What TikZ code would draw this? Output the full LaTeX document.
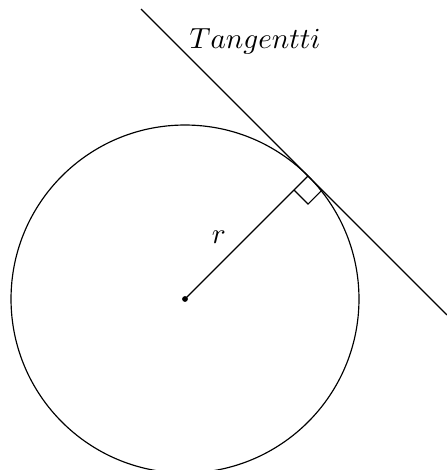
\documentclass[tikz,border=0pt]{standalone}
\usepackage{amsmath}
\usepackage{amssymb}
\usepackage{tikz}

\begin{document}
\begin{tikzpicture}
      \useasboundingbox (-2.233,-2.064) rectangle (3.162,3.609);
      \coordinate (O) at (0,0);
      \coordinate (T) at (45:2.1);
      \coordinate (A) at (-0.530,3.500);
      \coordinate (B) at (3.162,-0.192);
      \draw [-,thin,black] (O) circle (2.1);
      \draw [-,thin,black] (A) -- (T) -- (B);
      \draw [-,thin,black] (O) -- (T);
      \draw [-,thin,black] (T) ++(225:0.24) -- ++(315:0.24) -- ++(45:0.24);
      \fill [black] (O) circle (1pt);
      \node (tlabel) at (0.845,3.106) {$Tangentti$};
      \node (rlabel) at (0.41,0.75) {$r$};
    \end{tikzpicture}
\end{document}
